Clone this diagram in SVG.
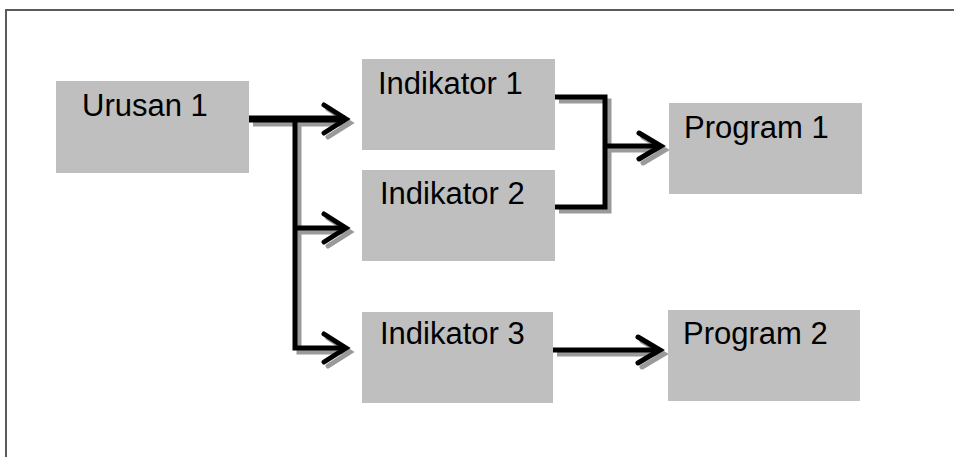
<svg xmlns="http://www.w3.org/2000/svg" xmlns:xlink="http://www.w3.org/1999/xlink" width="954" height="457" viewBox="0 0 954 457">
<style>
.box{fill:#bfbfbf;}
.lbl{font-family:"Liberation Sans",Arial,sans-serif;font-size:31px;fill:#000;}
.ln{fill:none;stroke-linecap:butt;stroke-linejoin:miter;}
.blk{stroke:#000;}
.shd{stroke:#9a9a9a;}
</style>
<defs>
<g id="conn">
<path d="M249,119 H345" stroke-width="7"/>
<path d="M295,119 V348 H345 M295,228 H345" stroke-width="5"/>
<path d="M324,105 L346,119 L324,133 M324,214 L346,228 L324,242 M324,334 L346,348 L324,362" stroke-width="5" stroke-linecap="round"/>
<path d="M555,97 H605 V207 H555 M605,146 H660" stroke-width="5"/>
<path d="M639,133 L661,146 L639,159" stroke-width="5" stroke-linecap="round"/>
<path d="M553,350 H659" stroke-width="5"/>
<path d="M638,337 L660,350 L638,363" stroke-width="5" stroke-linecap="round"/>
</g>
</defs>
<rect x="0" y="0" width="954" height="457" fill="#fff"/>
<path d="M6,457 V10 H954" fill="none" stroke="#5a5a5a" stroke-width="2"/>
<g id="connectors">
<use xlink:href="#conn" href="#conn" class="ln shd" transform="translate(4,4)"/>
<use xlink:href="#conn" href="#conn" class="ln blk"/>
</g>
<g id="urusan1"><rect class="box" x="56" y="81" width="193" height="92"/><text class="lbl" x="82" y="116">Urusan 1</text></g>
<g id="indikator1"><rect class="box" x="362" y="59" width="193" height="91"/><text class="lbl" x="378" y="94">Indikator 1</text></g>
<g id="indikator2"><rect class="box" x="362" y="170" width="193" height="91"/><text class="lbl" x="380" y="204">Indikator 2</text></g>
<g id="indikator3"><rect class="box" x="362" y="312" width="191" height="91"/><text class="lbl" x="380" y="344">Indikator 3</text></g>
<g id="program1"><rect class="box" x="669" y="103" width="193" height="91"/><text class="lbl" x="684" y="138">Program 1</text></g>
<g id="program2"><rect class="box" x="668" y="310" width="192" height="91"/><text class="lbl" x="683" y="344">Program 2</text></g>
</svg>
